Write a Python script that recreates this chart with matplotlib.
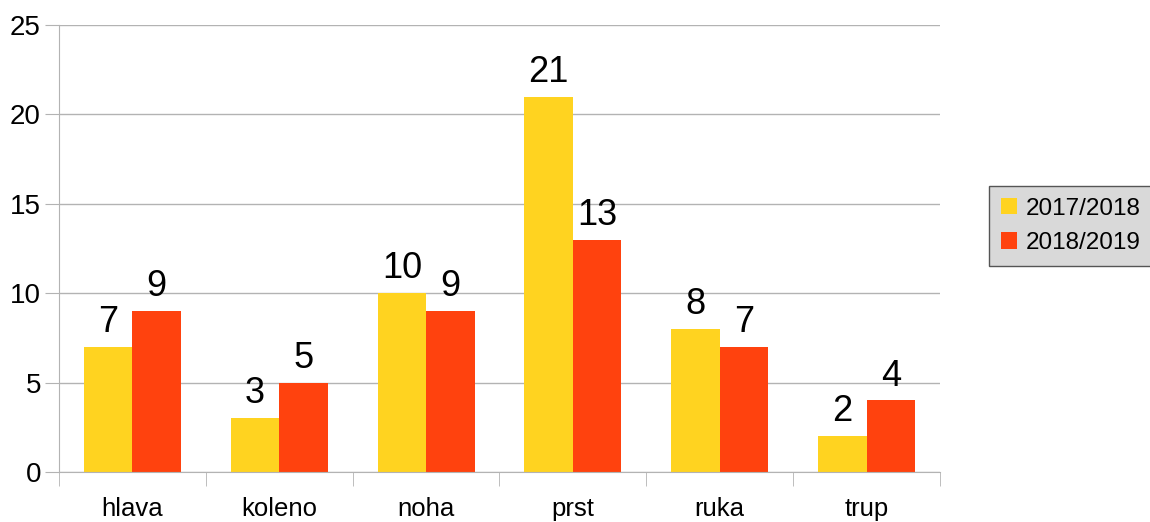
import matplotlib.pyplot as plt
import numpy as np

categories = ['hlava', 'koleno', 'noha', 'prst', 'ruka', 'trup']
series_names = ['2017/2018', '2018/2019']
values_2017 = [7, 3, 10, 21, 8, 2]
values_2018 = [9, 5, 9, 13, 7, 4]
colors = ['#FFD320', '#FF420E']

plt.rcParams['font.family'] = ['Liberation Sans', 'DejaVu Sans']

fig = plt.figure(figsize=(11.5, 5.22), dpi=100)
ax = fig.add_axes([59 / 1150, 50 / 522, 881 / 1150, 447 / 522])

x = np.arange(len(categories))
width = 0.33

b1 = ax.bar(x - width / 2, values_2017, width, color=colors[0], label=series_names[0])
b2 = ax.bar(x + width / 2, values_2018, width, color=colors[1], label=series_names[1])
ax.bar_label(b1, padding=5, fontsize=26)
ax.bar_label(b2, padding=5, fontsize=26)

ax.set_xlim(-0.5, len(categories) - 0.5)
ax.set_ylim(0, 25)
ax.set_yticks([0, 5, 10, 15, 20, 25])
ax.set_xticks(x)
ax.set_xticklabels(categories)
ax.set_xticks(np.arange(len(categories) + 1) - 0.5, minor=True)
ax.tick_params(axis='x', which='major', length=0, labelsize=18.5, pad=18)
ax.tick_params(axis='x', which='minor', length=10, color='#b3b3b3')
ax.tick_params(axis='y', length=10, color='#b3b3b3', labelsize=20, pad=3)

ax.yaxis.grid(True, color='#b3b3b3', linewidth=1)
ax.set_axisbelow(True)
for side in ['top', 'right']:
    ax.spines[side].set_visible(False)
for side in ['left', 'bottom']:
    ax.spines[side].set_color('#b3b3b3')

leg = fig.legend(loc='center left', bbox_to_anchor=(989 / 1150, 1 - 226 / 522),
                 fontsize=17.5, frameon=True, fancybox=False, handlelength=0.65,
                 handleheight=0.65, handletextpad=0.35, borderpad=0.5,
                 labelspacing=0.5, borderaxespad=0)
leg.get_frame().set_facecolor('#d9d9d9')
leg.get_frame().set_edgecolor('#555555')
leg.get_frame().set_alpha(1)

fig.savefig('out.png', dpi=100)
